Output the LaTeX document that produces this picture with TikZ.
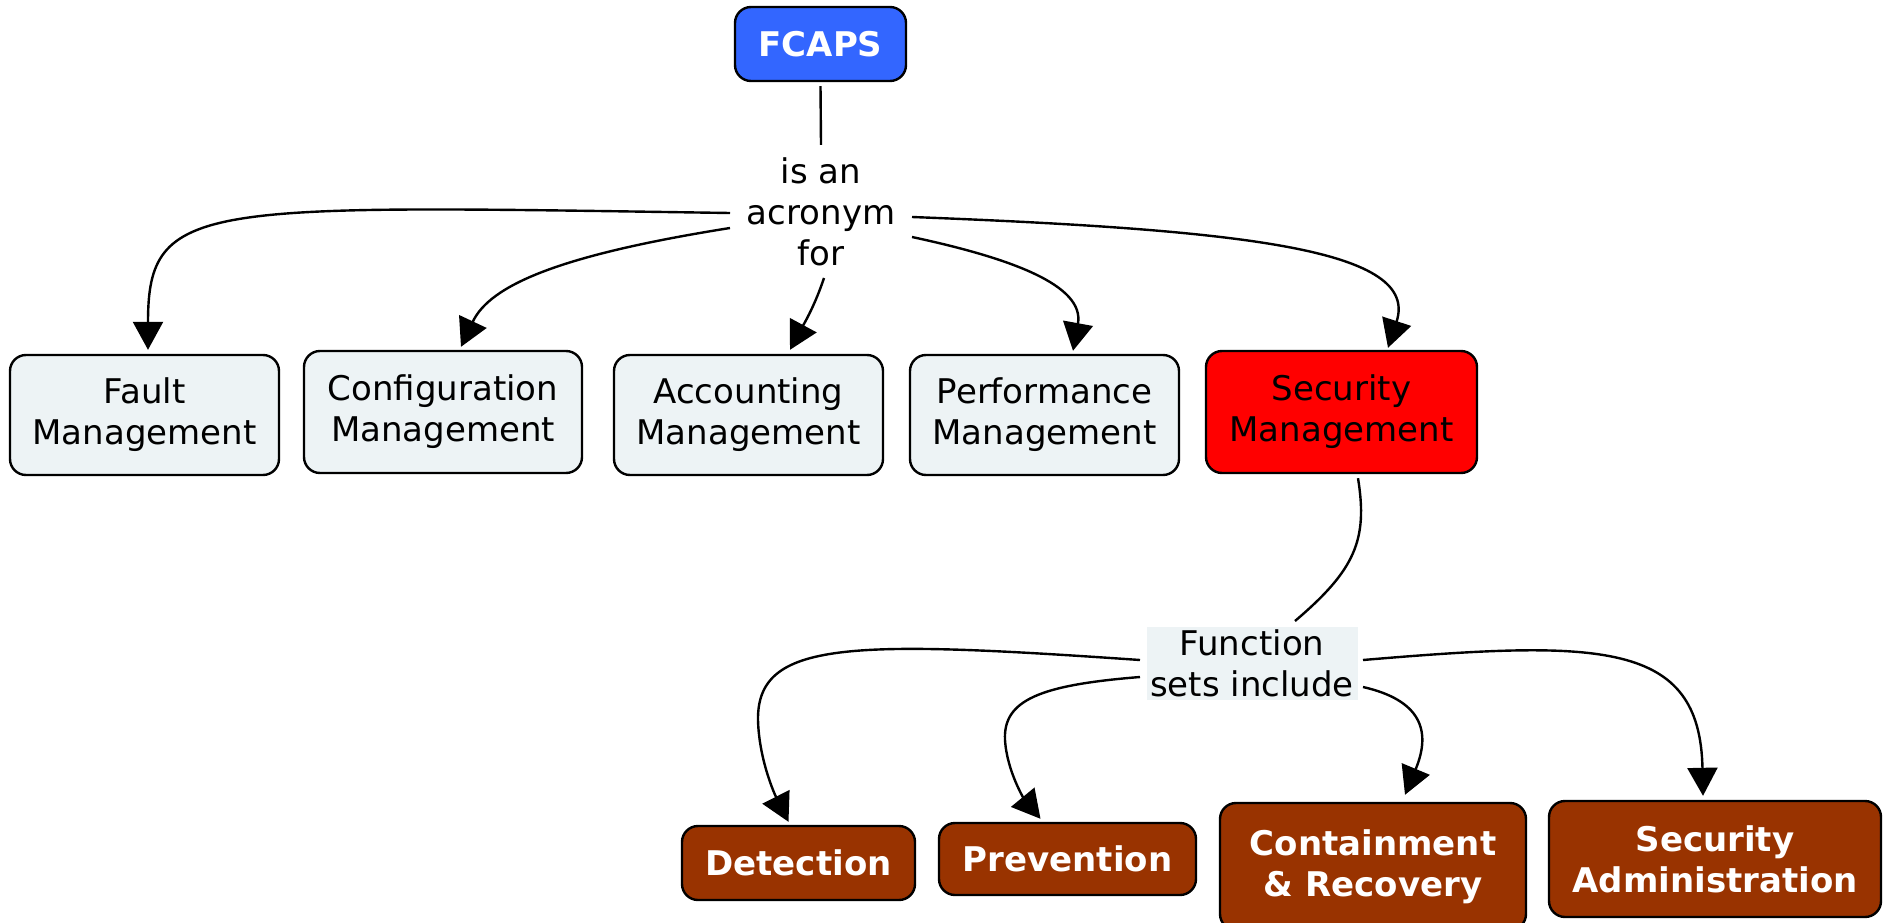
\documentclass[tikz,border=0pt]{standalone}
\usepackage{fontspec}
\setmainfont{DejaVu Sans}
\usetikzlibrary{arrows.meta,calc}
\definecolor{fcapsblue}{RGB}{51,102,255}
\definecolor{palebox}{RGB}{237,243,245}
\definecolor{secred}{RGB}{255,0,0}
\definecolor{rust}{RGB}{153,51,0}
\begin{document}
\begin{tikzpicture}[x=1pt,y=-1pt,
  box/.style={draw=black, line width=2.4pt, rounded corners=16pt, align=center,
    inner sep=0pt, font=\fontsize{34}{41}\selectfont},
  pale/.style={box, fill=palebox},
  brownbox/.style={box, fill=rust, text=white, font=\fontsize{34}{41}\selectfont\bfseries},
  link/.style={line width=2.4pt, line join=round},
  arr/.style={link, -{Triangle[length=28pt,width=30pt]}},
  lbl/.style={align=center, inner sep=0pt, font=\fontsize{34}{41}\selectfont}]
\fill[white] (0,0) rectangle (1887,923);
\useasboundingbox (0,0) rectangle (1887,923);
\clip (0,0) rectangle (1887,923);

% concepts
\node[box, fill=fcapsblue, text=white, font=\fontsize{34}{41}\selectfont\bfseries,
  minimum width=171pt, minimum height=74pt] (fcaps) at (820.5,44) {FCAPS};
\node[pale, minimum width=269pt, minimum height=120pt] (fault) at (144.5,415) {Fault\\Management};
\node[pale, minimum width=278pt, minimum height=122pt] (config) at (443,412) {Configuration\\Management};
\node[pale, minimum width=269pt, minimum height=120pt] (acct) at (748.5,415) {Accounting\\Management};
\node[pale, minimum width=269pt, minimum height=120pt] (perf) at (1044.5,415) {Performance\\Management};
\node[box, fill=secred, minimum width=271pt, minimum height=122pt] (secm) at (1341.5,412) {Security\\Management};

\node[brownbox, minimum width=233pt, minimum height=74pt] (det) at (798.5,863) {Detection};
\node[brownbox, minimum width=257pt, minimum height=72pt] (prev) at (1067.5,859) {Prevention};
\node[brownbox, minimum width=306pt, minimum height=127pt] (cont) at (1373,866.5) {Containment\\\& Recovery};
\node[brownbox, minimum width=332pt, minimum height=116pt] (sadm) at (1715,859) {Security\\Administration};

% linking phrases
\node[lbl, minimum width=182pt, minimum height=134pt] (acr) at (821,212) {is an\\acronym\\for};
\node[lbl, fill=palebox, minimum width=211pt, minimum height=73pt] (fsi) at (1252,663) {Function\\sets include};

% links
\draw[link] ($(fcaps.south)+(0,4)$) -- (acr.north);
\draw[arr] ($(acr.center)+(-91,1)$) .. controls (200,205) and (148,200) .. ($(fault.north)+(3.5,-4)$);
\draw[arr] ($(acr.center)+(-91,16)$) .. controls (560,255) and (490,285) .. ($(config.north)+(18,-3)$);
\draw[arr] ($(acr.center)+(3,66)$) .. controls (815,305) and (805,322) .. ($(acct.north)+(41.5,-4)$);
\draw[arr] ($(acr.center)+(91,25)$) .. controls (1010,258) and (1085,285) .. ($(perf.north)+(28.5,-3)$);
\draw[arr] ($(acr.center)+(91,5)$) .. controls (1250,230) and (1420,250) .. ($(secm.north)+(46.5,-2)$);

\draw[link] ($(secm.south)+(16.5,4)$) .. controls (1368,540) and (1355,570) .. ($(fsi.center)+(43,-42)$);

\draw[arr] ($(fsi.center)+(-112,-3)$) .. controls (850,640) and (757,640) .. (758,720)
  .. controls (759,760) and (775,795) .. ($(det.north)+(-10,-3)$);
\draw[arr] ($(fsi.center)+(-112,14)$) .. controls (1040,685) and (1003,700) .. (1005,740)
  .. controls (1007,772) and (1025,800) .. ($(prev.north)+(-27,-3)$);
\draw[arr] ($(fsi.center)+(111,24)$) .. controls (1420,700) and (1432,730) .. ($(cont.north)+(32,-7)$);
\draw[arr] ($(fsi.center)+(111,-3)$) .. controls (1600,640) and (1700,640) .. ($(sadm.north)+(-12,-4)$);
\end{tikzpicture}
\end{document}
